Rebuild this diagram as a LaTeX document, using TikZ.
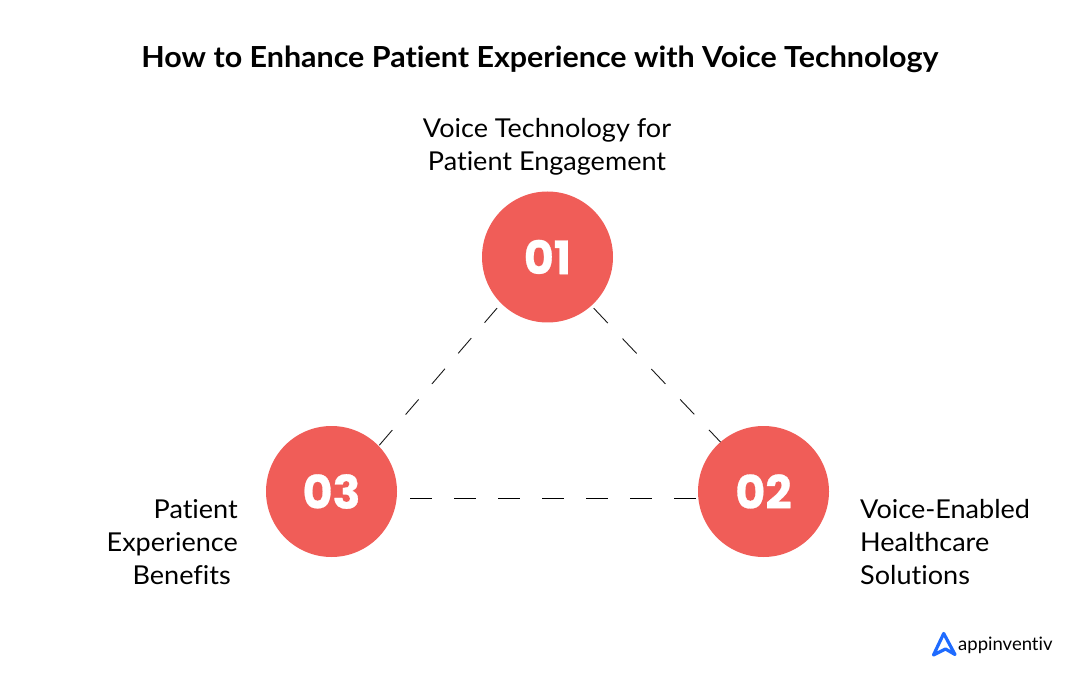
\documentclass[tikz,border=0pt]{standalone}
\usepackage{fontspec}
\setmainfont[Ligatures=NoCommon]{Lato}
\newfontfamily\labelfont[Ligatures=NoCommon,FakeStretch=1.04]{Lato}
\newfontfamily\titlefont[Ligatures=NoCommon,FakeStretch=1.05]{Lato}
\newfontfamily\popp[FakeBold=0.6]{Poppins}
\definecolor{coral}{HTML}{F05D58}
\definecolor{logoblue}{HTML}{1F6BFF}
\tikzset{
  x=1pt,y=-1pt,
  badge/.style={circle,fill=coral,minimum size=131pt,inner sep=0pt,outer sep=0pt,text=white,font=\popp\bfseries\fontsize{46}{46}\selectfont},
  label/.style={inner sep=0pt,font=\labelfont\fontsize{26}{33}\selectfont,text=black},
  titletext/.style={inner sep=0pt,font=\titlefont\bfseries\fontsize{29}{34}\selectfont,text=black},
  link/.style={draw=black!90,line width=0.9pt,dash pattern=on 20pt off 20.4pt},
  rlink/.style={draw=black!90,line width=0.9pt,dash pattern=on 20.5pt off 21.4pt},
  hlink/.style={draw=black,line width=0.9pt,dash pattern=on 22pt off 22pt},
}
\begin{document}
\begin{tikzpicture}
\useasboundingbox (0,0) rectangle (1080,695);
\node[titletext] (title) at (540,59) {How to Enhance Patient Experience with Voice Technology};
\node[label,align=center] (t1) at (547,146.5) {Voice Technology for\\Patient Engagement};
\node[badge] (n1) at (547.5,257) {01};
\node[badge] (n2) at (763.5,491.5) {02};
\node[badge] (n3) at (331.5,491.5) {03};
\node[label,align=right,anchor=east] (t3) at (238,542.5) {Patient\\Experience\\Benefits\hspace*{7pt}};
\node[label,align=left,anchor=west] (t2) at (860,542.5) {Voice-Enabled\\Healthcare\\Solutions};
\draw[link,shorten <=1pt,shorten >=6.3pt] (n3.44) -- (n1.225);
\draw[rlink,shorten <=3.5pt,shorten >=0pt] (n1.312) -- (n2.131);
\draw[hlink,shorten <=13.4pt,shorten >=2.4pt] (n3.-6.1) -- (n2.186.1);
\draw[logoblue,line width=3.2pt,line join=round,line cap=round] (933.5,655) -- (943.7,633.5) -- (955,654.5) -- (945.5,649) -- cycle;
\node[inner sep=0pt,anchor=west,font=\fontsize{18.5}{20}\selectfont,text=black] (logo) at (958,645) {appinventiv};
\end{tikzpicture}
\end{document}
